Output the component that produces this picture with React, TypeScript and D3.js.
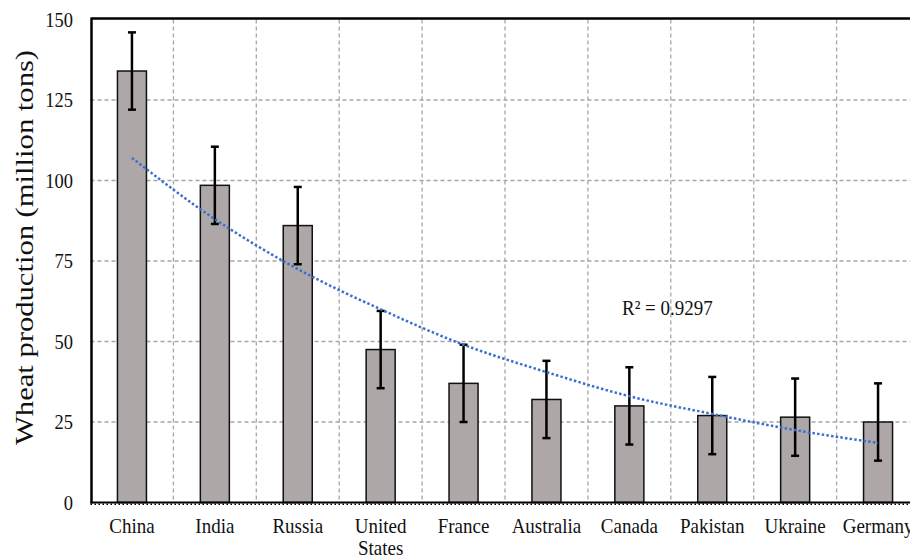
import React, { useEffect, useRef } from 'react';
import * as d3 from 'd3';

const categories = ['China', 'India', 'Russia', 'United States', 'France', 'Australia', 'Canada', 'Pakistan', 'Ukraine', 'Germany'];
const production = [134, 98.5, 86, 47.5, 37, 32, 30, 27, 26.5, 25];
const errors = [12, 12, 12, 12, 12, 12, 12, 12, 12, 12];
const trend = [107, 88, 72.5, 60, 49, 40.5, 33, 27.5, 22.5, 18.5];
const yTicks = [0, 25, 50, 75, 100, 125, 150];
const rSquared = 'R² = 0.9297';

const W = 910;
const H = 556;
const serif = '"Liberation Serif", "Times New Roman", serif';

const App = () => {
  const svgRef = useRef<SVGSVGElement>(null);

  useEffect(() => {
    document.body.style.margin = '0';
    const svg = d3.select(svgRef.current);
    svg.selectAll('*').remove();

    const left = 90.5;
    const right = 919.5;
    const top = 19.5;
    const bottom = 502.5;

    const x = d3.scaleBand<string>().domain(categories).range([left, right]).paddingInner(0.65).paddingOuter(0.325);
    const grid = d3.scaleBand<string>().domain(categories).range([left, right]);
    const y = d3.scaleLinear().domain([0, 150]).range([bottom, top]);
    const cx = (c: string) => (x(c) as number) + x.bandwidth() / 2;

    // gridlines
    const g = svg.append('g');
    g.selectAll('.hgrid')
      .data(yTicks.filter((t) => t > 0 && t < 150))
      .join('line')
      .attr('x1', left)
      .attr('x2', right)
      .attr('y1', (d) => y(d))
      .attr('y2', (d) => y(d))
      .attr('stroke', '#a6a6a6')
      .attr('stroke-width', 1.3)
      .attr('stroke-dasharray', '4 3');
    g.selectAll('.vgrid')
      .data(categories.slice(1))
      .join('line')
      .attr('x1', (d) => grid(d) as number)
      .attr('x2', (d) => grid(d) as number)
      .attr('y1', top)
      .attr('y2', bottom)
      .attr('stroke', '#a6a6a6')
      .attr('stroke-width', 1.3)
      .attr('stroke-dasharray', '4 3');

    // bars
    svg
      .selectAll('.bar')
      .data(production)
      .join('rect')
      .attr('x', (d, i) => x(categories[i]) as number)
      .attr('y', (d) => y(d))
      .attr('width', x.bandwidth())
      .attr('height', (d) => y(0) - y(d))
      .attr('fill', '#aea7a7')
      .attr('stroke', '#111')
      .attr('stroke-width', 1.5);

    // error bars
    const eb = svg.append('g').attr('stroke', '#000').attr('stroke-width', 2.5);
    production.forEach((v, i) => {
      const c = cx(categories[i]);
      eb.append('line').attr('x1', c).attr('x2', c).attr('y1', y(v - errors[i])).attr('y2', y(v + errors[i]));
      [v - errors[i], v + errors[i]].forEach((e) => {
        eb.append('line').attr('x1', c - 4).attr('x2', c + 4).attr('y1', y(e)).attr('y2', y(e));
      });
    });

    // trend line
    const line = d3
      .line<number>()
      .x((d, i) => cx(categories[i]))
      .y((d) => y(d))
      .curve(d3.curveMonotoneX);
    svg
      .append('path')
      .attr('d', line(trend))
      .attr('fill', 'none')
      .attr('stroke', '#3a6fd0')
      .attr('stroke-width', 2.5)
      .attr('stroke-dasharray', '2.5 2.2');

    // frame
    svg.append('line').attr('x1', left + 1).attr('x2', W).attr('y1', top - 1).attr('y2', top - 1).attr('stroke', '#000').attr('stroke-width', 2.5);
    svg.append('line').attr('x1', left + 1).attr('x2', left + 1).attr('y1', top - 2).attr('y2', bottom + 1).attr('stroke', '#000').attr('stroke-width', 2.5);
    svg.append('line').attr('x1', left).attr('x2', W).attr('y1', bottom).attr('y2', bottom).attr('stroke', '#000').attr('stroke-width', 2);
    svg.append('line').attr('x1', left).attr('x2', W).attr('y1', bottom + 1.8).attr('y2', bottom + 1.8).attr('stroke', '#000').attr('stroke-width', 1.6).attr('stroke-dasharray', '1.5 2.5');

    // y tick labels
    svg
      .selectAll('.ytick')
      .data(yTicks)
      .join('text')
      .attr('transform', (d) => `translate(73,${y(d) + 7}) scale(1,1.12)`)
      .attr('text-anchor', 'end')
      .attr('font-family', serif)
      .attr('font-size', 18.5)
      .attr('fill', '#111')
      .text((d) => d);

    // x labels
    const xl = svg.append('g');
    categories.forEach((c) => {
      const words = c === 'United States' ? ['United', 'States'] : [c];
      words.forEach((w, k) => {
        xl.append('text')
          .attr('transform', `translate(${cx(c)},${533 + k * 22}) scale(1,1.15)`)
          .attr('text-anchor', 'middle')
          .attr('font-family', serif)
          .attr('font-size', 19)
          .attr('fill', '#111')
          .text(w);
      });
    });

    // y title
    svg
      .append('text')
      .attr('transform', `translate(33,${(45 + 450) / 2}) rotate(-90) scale(1.2,1)`)
      .attr('text-anchor', 'middle')
      .attr('font-family', serif)
      .attr('font-size', 25.5)
      .attr('fill', '#111')
      .text('Wheat production (million tons)');

    // R squared
    svg
      .append('text')
      .attr('transform', `translate(622,315) scale(1,1.12)`)
      .attr('font-family', serif)
      .attr('font-size', 19)
      .attr('fill', '#111')
      .text(rSquared);
  }, []);

  return (
    <div style={{ position: 'absolute', left: 0, top: 0 }}>
      <svg ref={svgRef} width={W} height={H} style={{ display: 'block', background: '#fff' }} />
    </div>
  );
};

export default App;
